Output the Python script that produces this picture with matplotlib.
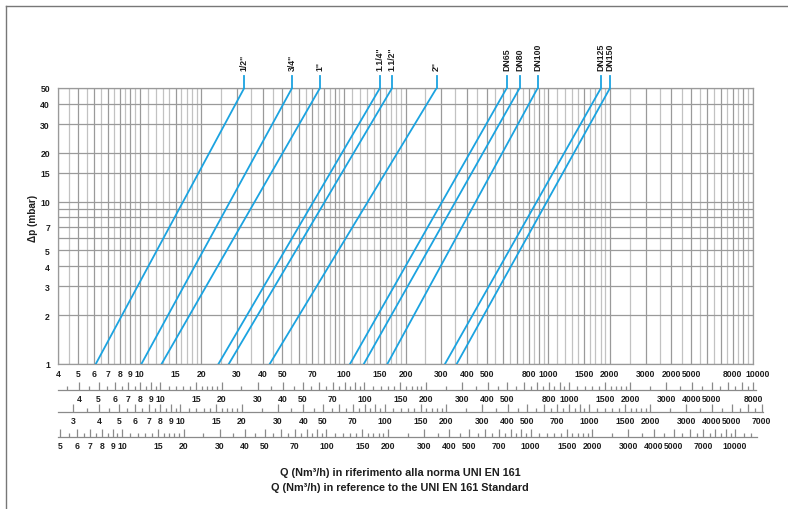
import matplotlib.pyplot as plt
from matplotlib.lines import Line2D
from matplotlib.ticker import NullLocator, FixedLocator
from matplotlib.transforms import ScaledTranslation

# pipe sizes and flow (Nm3/h) read at 1 mbar and 50 mbar
sizes = ['1/2"', '3/4"', '1"', '1.1/4"', '1.1/2"', '2"',
         'DN65', 'DN80', 'DN100', 'DN125', 'DN150']
q_at_1mbar = [6.1, 10.2, 12.8, 24.3, 27.3, 43.3, 107, 125, 163, 312, 356]
q_at_50mbar = [32.5, 55.7, 76.3, 150, 172, 284, 626, 724, 887, 1810, 2004]

dp_ticks = [1, 2, 3, 4, 5, 7, 10, 15, 20, 30, 40, 50]
dp_grid = [1, 2, 3, 4, 5, 6, 7, 8, 9, 10, 15, 20, 30, 40, 50]

q_ticks = [4, 5, 6, 7, 8, 9, 10, 15, 20, 30, 40, 50, 70, 100, 150, 200, 300,
           400, 500, 800, 1000, 1500, 2000, 3000, 4000, 5000, 8000, 10000]
q_ticklabels = ['4', '5', '6', '7', '8', '9', '10', '15', '20', '30', '40', '50',
                '70', '100', '150', '200', '300', '400', '500', '800', '1000',
                '1500', '2000', '3000', '2000', '5000', '8000', '10000']

# extra flow scales under the chart (scale factor vs. main scale)
row2_factor = 1.26
row2_labels = [4, 5, 6, 7, 8, 9, 10, 15, 20, 30, 40, 50, 70, 100, 150, 200, 300,
               400, 500, 800, 1000, 1500, 2000, 3000, 4000, 5000, 8000]
row3_factor = 1.58
row3_labels = [3, 4, 5, 6, 7, 8, 9, 10, 15, 20, 30, 40, 50, 70, 100, 150, 200,
               300, 400, 500, 700, 1000, 1500, 2000, 3000, 4000, 5000, 7000]
row4_factor = 0.82
row4_labels = [5, 6, 7, 8, 9, 10, 15, 20, 30, 40, 50, 70, 100, 150, 200, 300,
               400, 500, 700, 1000, 1500, 2000, 3000, 4000, 5000, 7000, 10000]

BLUE = '#1ba3e0'
GRID_DARK = '#9a9a9a'
GRID_LIGHT = '#c2c2c2'
TXT = '#1e1e1e'
W, H = 788, 510
LEFT, RIGHT, TOP, BOTTOM = 58.3, 752.7, 89, 365
PX_PER_DEC = (RIGHT - LEFT) / 3.39794
TICKFONT = dict(family='Liberation Sans', weight='bold', size=6.2)


def fx(px):
    return px / W


def fy(py):
    return 1 - py / H


fig = plt.figure(figsize=(W / 100, H / 100), dpi=100)

ax = fig.add_axes([fx(LEFT), fy(BOTTOM), (RIGHT - LEFT) / W, (BOTTOM - TOP) / H])
ax.set_xscale('log')
ax.set_yscale('log')
ax.set_xlim(4, 10000)
ax.set_ylim(1, 50)

mant_dark = [1, 1.5, 2, 3, 4, 5, 6, 7, 8, 9]
mant_all = [1.0, 1.1, 1.2, 1.3, 1.4, 1.5, 1.6, 1.7, 1.8, 1.9, 2.0, 2.5, 3.0, 3.5,
            4.0, 4.5, 5.0, 5.5, 6.0, 6.5, 7.0, 7.5, 8.0, 8.5, 9.0, 9.5]
for dec in [1, 10, 100, 1000, 10000]:
    for m in mant_all:
        v = m * dec
        if 4 <= v <= 10000:
            c = GRID_DARK if m in mant_dark else GRID_LIGHT
            ax.axvline(v, color=c, lw=0.9, zorder=1)
for v in dp_grid:
    ax.axhline(v, color=GRID_DARK, lw=0.9, zorder=1)

for sp in ax.spines.values():
    sp.set_color(GRID_DARK)
    sp.set_linewidth(0.9)

ax.xaxis.set_minor_locator(NullLocator())
ax.yaxis.set_minor_locator(NullLocator())
ax.set_xticks(q_ticks)
ax.set_xticklabels(q_ticklabels, **TICKFONT)
ax.set_yticks(dp_ticks)
ax.set_yticklabels([str(v) for v in dp_ticks], **TICKFONT)
ax.tick_params(axis='x', length=0, pad=3.5, colors=TXT)
ax.tick_params(axis='y', length=0, pad=6, colors=TXT)
# last label sits a little to the right in the original
last = ax.get_xticklabels()[-1]
last.set_transform(last.get_transform() + ScaledTranslation(5 / 100, 0, fig.dpi_scale_trans))

stub_top = 50 * 10 ** (12.3 / ((BOTTOM - TOP) / 1.69897))
for name, q1, q50 in zip(sizes, q_at_1mbar, q_at_50mbar):
    ax.plot([q1, q50], [1, 50], color=BLUE, lw=1.3, zorder=3)
    ax.plot([q50, q50], [50, stub_top], color=BLUE, lw=1.3, clip_on=False, zorder=3)
    ax.annotate(name, xy=(q50, 50), xytext=(0, 12.8), textcoords='offset points',
                rotation=90, ha='center', va='bottom', fontsize=6.3,
                fontweight='bold', family='Liberation Sans', color=TXT)

ax.text(-0.0365, 0.53, '\u0394p (mbar)', transform=ax.transAxes, rotation=90,
        ha='center', va='center', family='Liberation Sans', weight='bold', size=7.2,
        color=TXT)


def add_row(baseline_px, right_px, factor, labels):
    axr = fig.add_axes([fx(LEFT), fy(baseline_px), (right_px - LEFT) / W, 0.001])
    axr.set_xscale('log')
    q_right = 4 * 10 ** ((right_px - LEFT) / PX_PER_DEC)
    lo, hi = 4 / factor, q_right / factor
    axr.set_xlim(lo, hi)
    axr.patch.set_visible(False)
    axr.yaxis.set_visible(False)
    for k in ['top', 'left', 'right']:
        axr.spines[k].set_visible(False)
    axr.spines['bottom'].set_color('#8a8a8a')
    axr.spines['bottom'].set_linewidth(0.9)
    long_pos, short_pos = [], []
    for dec in [0.1, 1, 10, 100, 1000, 10000]:
        for m in mant_all:
            v = round(m * dec, 6)
            if lo <= v <= hi:
                (long_pos if m in mant_dark else short_pos).append(v)
    axr.xaxis.set_major_locator(FixedLocator(long_pos))
    axr.xaxis.set_minor_locator(FixedLocator(short_pos))
    axr.set_xticklabels([str(int(v)) if v in labels else '' for v in long_pos],
                        **TICKFONT)
    axr.xaxis.set_minor_formatter(plt.NullFormatter())
    axr.tick_params(which='major', direction='in', length=5.5, width=0.9,
                    color='#8a8a8a', pad=3, labelcolor=TXT)
    axr.tick_params(which='minor', direction='in', length=2.8, width=0.9,
                    color='#8a8a8a')
    return axr


add_row(390.7, 756, row2_factor, row2_labels)
add_row(412.7, 763, row3_factor, row3_labels)
add_row(437.7, 757, row4_factor, row4_labels)

fig.text(fx(400), fy(473.3), 'Q (Nm\u00b3/h) in riferimento alla norma UNI EN 161',
         ha='center', va='center', family='Liberation Sans', weight='bold', size=7.8,
         color=TXT)
fig.text(fx(400), fy(488.3), 'Q (Nm\u00b3/h) in reference to the UNI EN 161 Standard',
         ha='center', va='center', family='Liberation Sans', weight='bold', size=7.8,
         color=TXT)

# frame lines on top and left edge
fig.add_artist(Line2D([fx(6), 1], [fy(7), fy(7)], color='#777777', lw=1.0))
fig.add_artist(Line2D([fx(6), fx(6)], [0, fy(7)], color='#777777', lw=1.0))

fig.savefig('out.png', dpi=100)
plt.close(fig)
